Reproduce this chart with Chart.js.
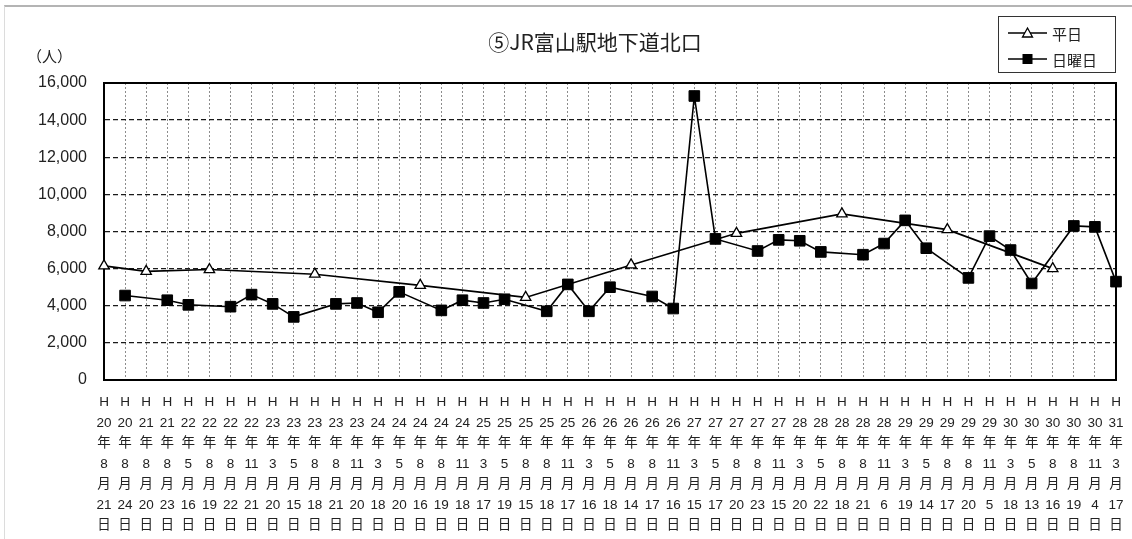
<!DOCTYPE html>
<html lang="ja">
<head>
<meta charset="utf-8">
<title>⑤JR富山駅地下道北口</title>
<script src="https://cdn.jsdelivr.net/npm/chart.js@4.4.0/dist/chart.umd.min.js"></script>
<style>
  html, body { margin: 0; padding: 0; background: #fff; overflow: hidden; }
  #frame {
    position: absolute; left: 4px; top: 5px; width: 1200px; height: 600px;
    border-top: 2px solid #b4b4b4; border-left: 1px solid #dcdcdc;
  }
  #chart { position: absolute; left: 0; top: 0; }
</style>
</head>
<body>
<div id="frame"></div>
<canvas id="chart" width="1132" height="539"></canvas>
<script>
// 調査日 (平成 年 / 月 / 日)
const years  = [20,20,21,21,22,22,22,22,23,23,23,23,23,24,24,24,24,24,25,25,25,25,25,26,26,26,26,26,27,27,27,27,27,28,28,28,28,28,29,29,29,29,29,30,30,30,30,30,31];
const months = [8,8,8,8,5,8,8,11,3,5,8,8,11,3,5,8,8,11,3,5,8,8,11,3,5,8,8,11,3,5,8,8,11,3,5,8,8,11,3,5,8,8,11,3,5,8,8,11,3];
const days   = [21,24,20,23,16,19,22,21,20,15,18,21,20,18,20,16,19,18,17,19,15,18,17,16,18,14,17,16,15,17,20,23,15,20,22,18,21,6,19,14,17,20,5,18,13,16,19,4,17];

// 平日 (weekday counts), null = not a weekday survey
const weekday = [6150,null,5850,null,null,5950,null,null,null,null,5700,null,null,null,null,5100,null,null,null,null,4450,null,null,null,null,6200,null,null,null,null,7900,null,null,null,null,8950,null,null,null,null,8100,null,null,null,null,6000,null,null,null];

// 日曜日 (Sunday counts)
const sunday = [null,4550,null,4300,4050,null,3950,4600,4100,3400,null,4100,4150,3650,4750,null,3750,4300,4150,4350,null,3700,5150,3700,5000,null,4500,3850,15300,7600,null,6950,7550,7500,6900,null,6750,7350,8600,7100,null,5500,7750,7000,5200,null,8300,8250,5300];

const yTicks = [0,2000,4000,6000,8000,10000,12000,14000,16000];

const labels = years.map((y, i) => ['H', String(y), '年', String(months[i]), '月', String(days[i]), '日']);

const JP = "'Noto Sans CJK JP', sans-serif";
const LAT = "'Liberation Sans', 'Noto Sans CJK JP', sans-serif";

// frame (top/right of plot area) + unit + legend
const decor = {
    id: 'decor',
    afterLayout(chart) {
        // centre the title a little right of the canvas middle, as in the original
        const t = chart.titleBlock;
        if (t) { t.left = 74; t.right = 1116; t.width = t.right - t.left; }
    },
    beforeDatasetsDraw(chart) {
        const { ctx, chartArea: a } = chart;
        ctx.save();
        ctx.strokeStyle = '#000';
        ctx.lineWidth = 2;
        ctx.beginPath();
        ctx.moveTo(a.left, a.top);
        ctx.lineTo(a.right, a.top);
        ctx.lineTo(a.right, a.bottom);
        ctx.stroke();
        ctx.restore();
    },
    afterDraw(chart) {
        const { ctx, chartArea: a } = chart;
        ctx.save();
        // unit
        ctx.fillStyle = '#222';
        ctx.font = '15px ' + JP;
        ctx.textBaseline = 'middle';
        ctx.textAlign = 'left';
        ctx.fillText('（人）', 27, 56);

        // legend box
        const bx = a.right - 118, by = 16, bw = 117, bh = 56;
        ctx.fillStyle = '#fff';
        ctx.fillRect(bx, by, bw, bh);
        ctx.strokeStyle = '#333';
        ctx.lineWidth = 1;
        ctx.strokeRect(bx + 0.5, by + 0.5, bw, bh);

        const rows = [
            { text: chart.data.datasets[0].label, y: by + 17, style: 'triangle' },
            { text: chart.data.datasets[1].label, y: by + 43, style: 'rect' }
        ];
        rows.forEach(r => {
            const x0 = bx + 10, x1 = bx + 49, cx = (x0 + x1) / 2;
            ctx.strokeStyle = '#000';
            ctx.lineWidth = 1.6;
            ctx.beginPath();
            ctx.moveTo(x0, r.y);
            ctx.lineTo(x1, r.y);
            ctx.stroke();
            if (r.style === 'triangle') {
                ctx.beginPath();
                ctx.moveTo(cx, r.y - 5);
                ctx.lineTo(cx + 5, r.y + 4);
                ctx.lineTo(cx - 5, r.y + 4);
                ctx.closePath();
                ctx.fillStyle = '#fff';
                ctx.fill();
                ctx.lineWidth = 1.3;
                ctx.stroke();
            } else {
                ctx.fillStyle = '#000';
                ctx.fillRect(cx - 5, r.y - 5, 10, 10);
            }
            ctx.fillStyle = '#222';
            ctx.font = '15px ' + JP;
            ctx.textAlign = 'left';
            ctx.textBaseline = 'middle';
            ctx.fillText(r.text, x1 + 5, r.y + 1);
        });
        ctx.restore();
    }
};

new Chart(document.getElementById('chart'), {
    type: 'line',
    data: {
        labels: labels,
        datasets: [{
            label: '平日',
            data: weekday,
            spanGaps: true,
            borderColor: '#000',
            borderWidth: 1.6,
            tension: 0,
            pointStyle: 'triangle',
            pointRadius: 6,
            pointBackgroundColor: '#fff',
            pointBorderColor: '#000',
            pointBorderWidth: 1.3
        }, {
            label: '日曜日',
            data: sunday,
            spanGaps: true,
            borderColor: '#000',
            borderWidth: 1.6,
            tension: 0,
            pointStyle: 'rect',
            pointRadius: 7.5,
            pointBackgroundColor: '#000',
            pointBorderColor: '#000',
            pointBorderWidth: 1
        }]
    },
    options: {
        responsive: false,
        animation: false,
        layout: { padding: { left: 0, right: 16, top: 8, bottom: 0 } },
        plugins: {
            legend: { display: false },
            tooltip: { enabled: false },
            title: {
                display: true,
                text: '⑤JR富山駅地下道北口',
                color: '#222',
                font: { family: JP, size: 21, weight: 'normal', lineHeight: '23px' },
                padding: { top: 23, bottom: 29 }
            }
        },
        scales: {
            x: {
                offset: false,
                grid: { color: '#8c8c8c', lineWidth: 1, drawTicks: false },
                border: { color: '#000', width: 2, dash: [2, 2] },
                ticks: {
                    autoSkip: false,
                    maxRotation: 0,
                    minRotation: 0,
                    padding: 12.5,
                    color: '#222',
                    font: { family: LAT, size: 13.5, lineHeight: '20.5px' }
                },
                afterFit(scale) {
                    scale.height = 159;
                    scale.paddingLeft = 0;
                    scale.paddingRight = 0;
                }
            },
            y: {
                min: 0,
                max: 16000,
                grid: { color: '#1a1a1a', lineWidth: 1.3, drawTicks: false },
                border: { color: '#000', width: 2, dash: [5, 3] },
                afterBuildTicks(scale) { scale.ticks = yTicks.map(v => ({ value: v })); },
                ticks: {
                    padding: 17,
                    color: '#222',
                    font: { family: LAT, size: 16 },
                    callback: v => v.toLocaleString('en-US')
                },
                afterFit(scale) { scale.width = 104; }
            }
        }
    },
    plugins: [decor]
});
</script>
</body>
</html>
